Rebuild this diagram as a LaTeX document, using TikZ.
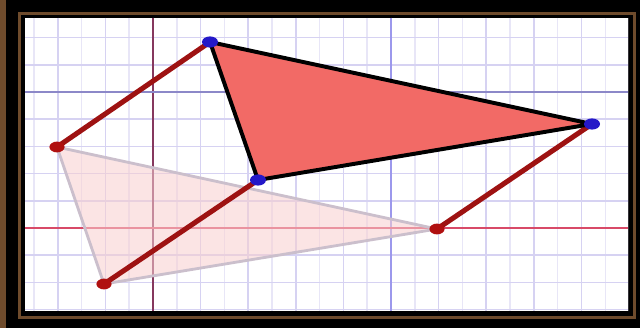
\documentclass[tikz,border=0pt]{standalone}
\usepackage{xcolor}
\usepackage{tikz}
\usetikzlibrary{shapes.geometric}

\definecolor{framebrown}{HTML}{6E4B2C}
\definecolor{gridlav}{HTML}{E8E6F7}
\definecolor{gridlavd}{HTML}{D6D2F2}
\definecolor{axred}{HTML}{D84A68}
\definecolor{axmaroon}{HTML}{86385E}
\definecolor{axblue}{HTML}{9C98EC}
\definecolor{axblued}{HTML}{8C88C8}
\definecolor{trifill}{HTML}{F26A66}
\definecolor{ghostfill}{HTML}{F9CFCF}
\definecolor{ghostedge}{HTML}{CBBFCC}
\definecolor{segred}{HTML}{9E1212}
\definecolor{dotblue}{HTML}{2418C8}
\definecolor{dotred}{HTML}{B01010}

\begin{document}
\begin{tikzpicture}[
    x=0.025cm,y=-0.025cm,
    minor/.style={gridlav,line width=1pt},
    minord/.style={gridlavd,line width=1pt},
    axis/.style={line width=1.4pt},
    seg/.style={segred,line width=3.6pt,line cap=round},
    tri/.style={fill=trifill,draw=black,line width=2.8pt,line join=round},
    ghost/.style={fill=ghostfill,fill opacity=0.55,draw=ghostedge,line width=2pt,line join=round},
    bdot/.style={ellipse,fill=dotblue,inner sep=0pt,minimum width=0.4cm,minimum height=0.28cm},
    rdot/.style={ellipse,fill=dotred,inner sep=0pt,minimum width=0.38cm,minimum height=0.27cm}
]
\useasboundingbox (0,0) rectangle (640,328);
\fill[black] (0,0) rectangle (640,328);
\fill[framebrown] (0,0) rectangle (6,328);
\draw[framebrown,line width=2.8pt] (19.5,13.5) rectangle (634.5,317.5);
\fill[white] (25,18) rectangle (628,311);

\begin{scope}
\clip (25,18) rectangle (628,311);
\foreach \i in {-5,...,20} {
    \draw[minor] ({153+23.8*\i},18) -- ({153+23.8*\i},311);
}
\foreach \i in {-2,...,10} {
    \draw[minord] ({153+47.6*\i},18) -- ({153+47.6*\i},311);
}
\foreach \j in {-3,...,8} {
    \draw[minord] (25,{92+27.2*\j}) -- (628,{92+27.2*\j});
}
\draw[axis,axmaroon] (153,18) -- (153,311);
\draw[axis,axblue] (391,18) -- (391,311);
\draw[axis,axblued] (25,92) -- (628,92);
\draw[axis,axred] (25,228) -- (628,228);
\end{scope}

\coordinate (A) at (210,42);
\coordinate (B) at (592,124);
\coordinate (C) at (258,180);
\coordinate (A') at (57,147);
\coordinate (B') at (437,229);
\coordinate (C') at (104,284);

\draw[ghost] (A') -- (B') -- (C') -- cycle;
\draw[seg] (A') -- (A);
\draw[seg] (B') -- (B);
\draw[seg] (C') -- (C);
\draw[tri] (A) -- (B) -- (C) -- cycle;

\node[bdot] (a) at (A) {};
\node[bdot] (b) at (B) {};
\node[bdot] (c) at (C) {};
\node[rdot] (a') at (A') {};
\node[rdot] (b') at (B') {};
\node[rdot] (c') at (C') {};
\end{tikzpicture}
\end{document}
